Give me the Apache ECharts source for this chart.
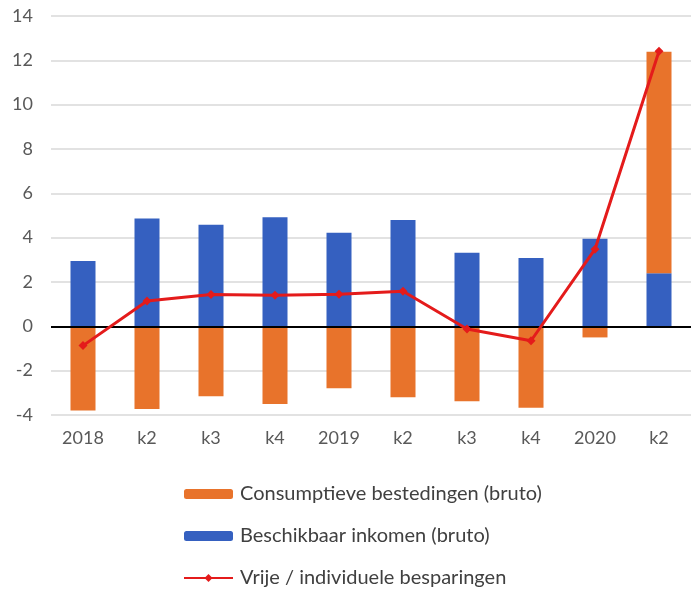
<!DOCTYPE html>
<html>
<head>
<meta charset="utf-8">
<script src="https://cdn.jsdelivr.net/npm/echarts@6/dist/echarts.min.js"></script>
<style>html,body{margin:0;padding:0;background:#fff;}#c{width:691px;height:589px;}</style>
</head>
<body>
<div id="c"></div>
<script>
const categories = ['2018','k2','k3','k4','2019','k2','k3','k4','2020','k2'];
const inkomen = [2.95, 4.86, 4.58, 4.92, 4.22, 4.80, 3.32, 3.08, 3.95, 2.39];
const consumptie = [-3.80, -3.73, -3.15, -3.50, -2.79, -3.20, -3.38, -3.67, -0.50, 10.00];
const besparingen = [-0.87, 1.14, 1.44, 1.40, 1.45, 1.58, -0.12, -0.65, 3.48, 12.41];
const yTicks = [-4, -2, 0, 2, 4, 6, 8, 10, 12, 14];

const FONT = 'Lato';
const chart = echarts.init(document.getElementById('c'));
chart.setOption({
  animation: false,
  backgroundColor: '#fff',
  grid: { left: 51, top: 16, width: 644, bottom: 174, containLabel: false },
  xAxis: {
    type: 'category',
    data: categories,
    axisLine: { show: false },
    axisTick: { show: false },
    axisLabel: { color: '#595959', fontSize: 18, fontFamily: FONT, margin: 14 }
  },
  yAxis: {
    type: 'value',
    min: yTicks[0], max: yTicks[yTicks.length - 1], interval: 2,
    axisLine: { show: false },
    axisTick: { show: false },
    axisLabel: { color: '#595959', fontSize: 18, fontFamily: FONT, margin: 18 },
    splitLine: { lineStyle: { color: '#d9d9d9', width: 1.5 } }
  },
  legend: {
    orient: 'vertical',
    left: 183, top: 484, padding: 0,
    itemWidth: 49, itemHeight: 10,
    itemGap: 22,
    data: ['Consumptieve bestedingen (bruto)', 'Beschikbaar inkomen (bruto)', 'Vrije / individuele besparingen'],
    textStyle: { color: '#404040', fontSize: 20, fontFamily: FONT, padding: [0, 0, 0, 2] }
  },
  series: [
    {
      name: 'Beschikbaar inkomen (bruto)', type: 'bar', stack: 's',
      data: inkomen, barWidth: 25, itemStyle: { color: '#3560c0' }
    },
    {
      name: 'Consumptieve bestedingen (bruto)', type: 'bar', stack: 's',
      data: consumptie, barWidth: 25, itemStyle: { color: '#e8732b' },
      markLine: {
        silent: true, symbol: 'none', label: { show: false },
        lineStyle: { color: '#000', width: 2, type: 'solid' },
        data: [{ yAxis: 0 }]
      }
    },
    {
      name: 'Vrije / individuele besparingen', type: 'line',
      data: besparingen, symbol: 'diamond', symbolSize: 9,
      lineStyle: { color: '#e41b1b', width: 3 },
      itemStyle: { color: '#e41b1b' },
      z: 5
    }
  ]
});
</script>
</body>
</html>
